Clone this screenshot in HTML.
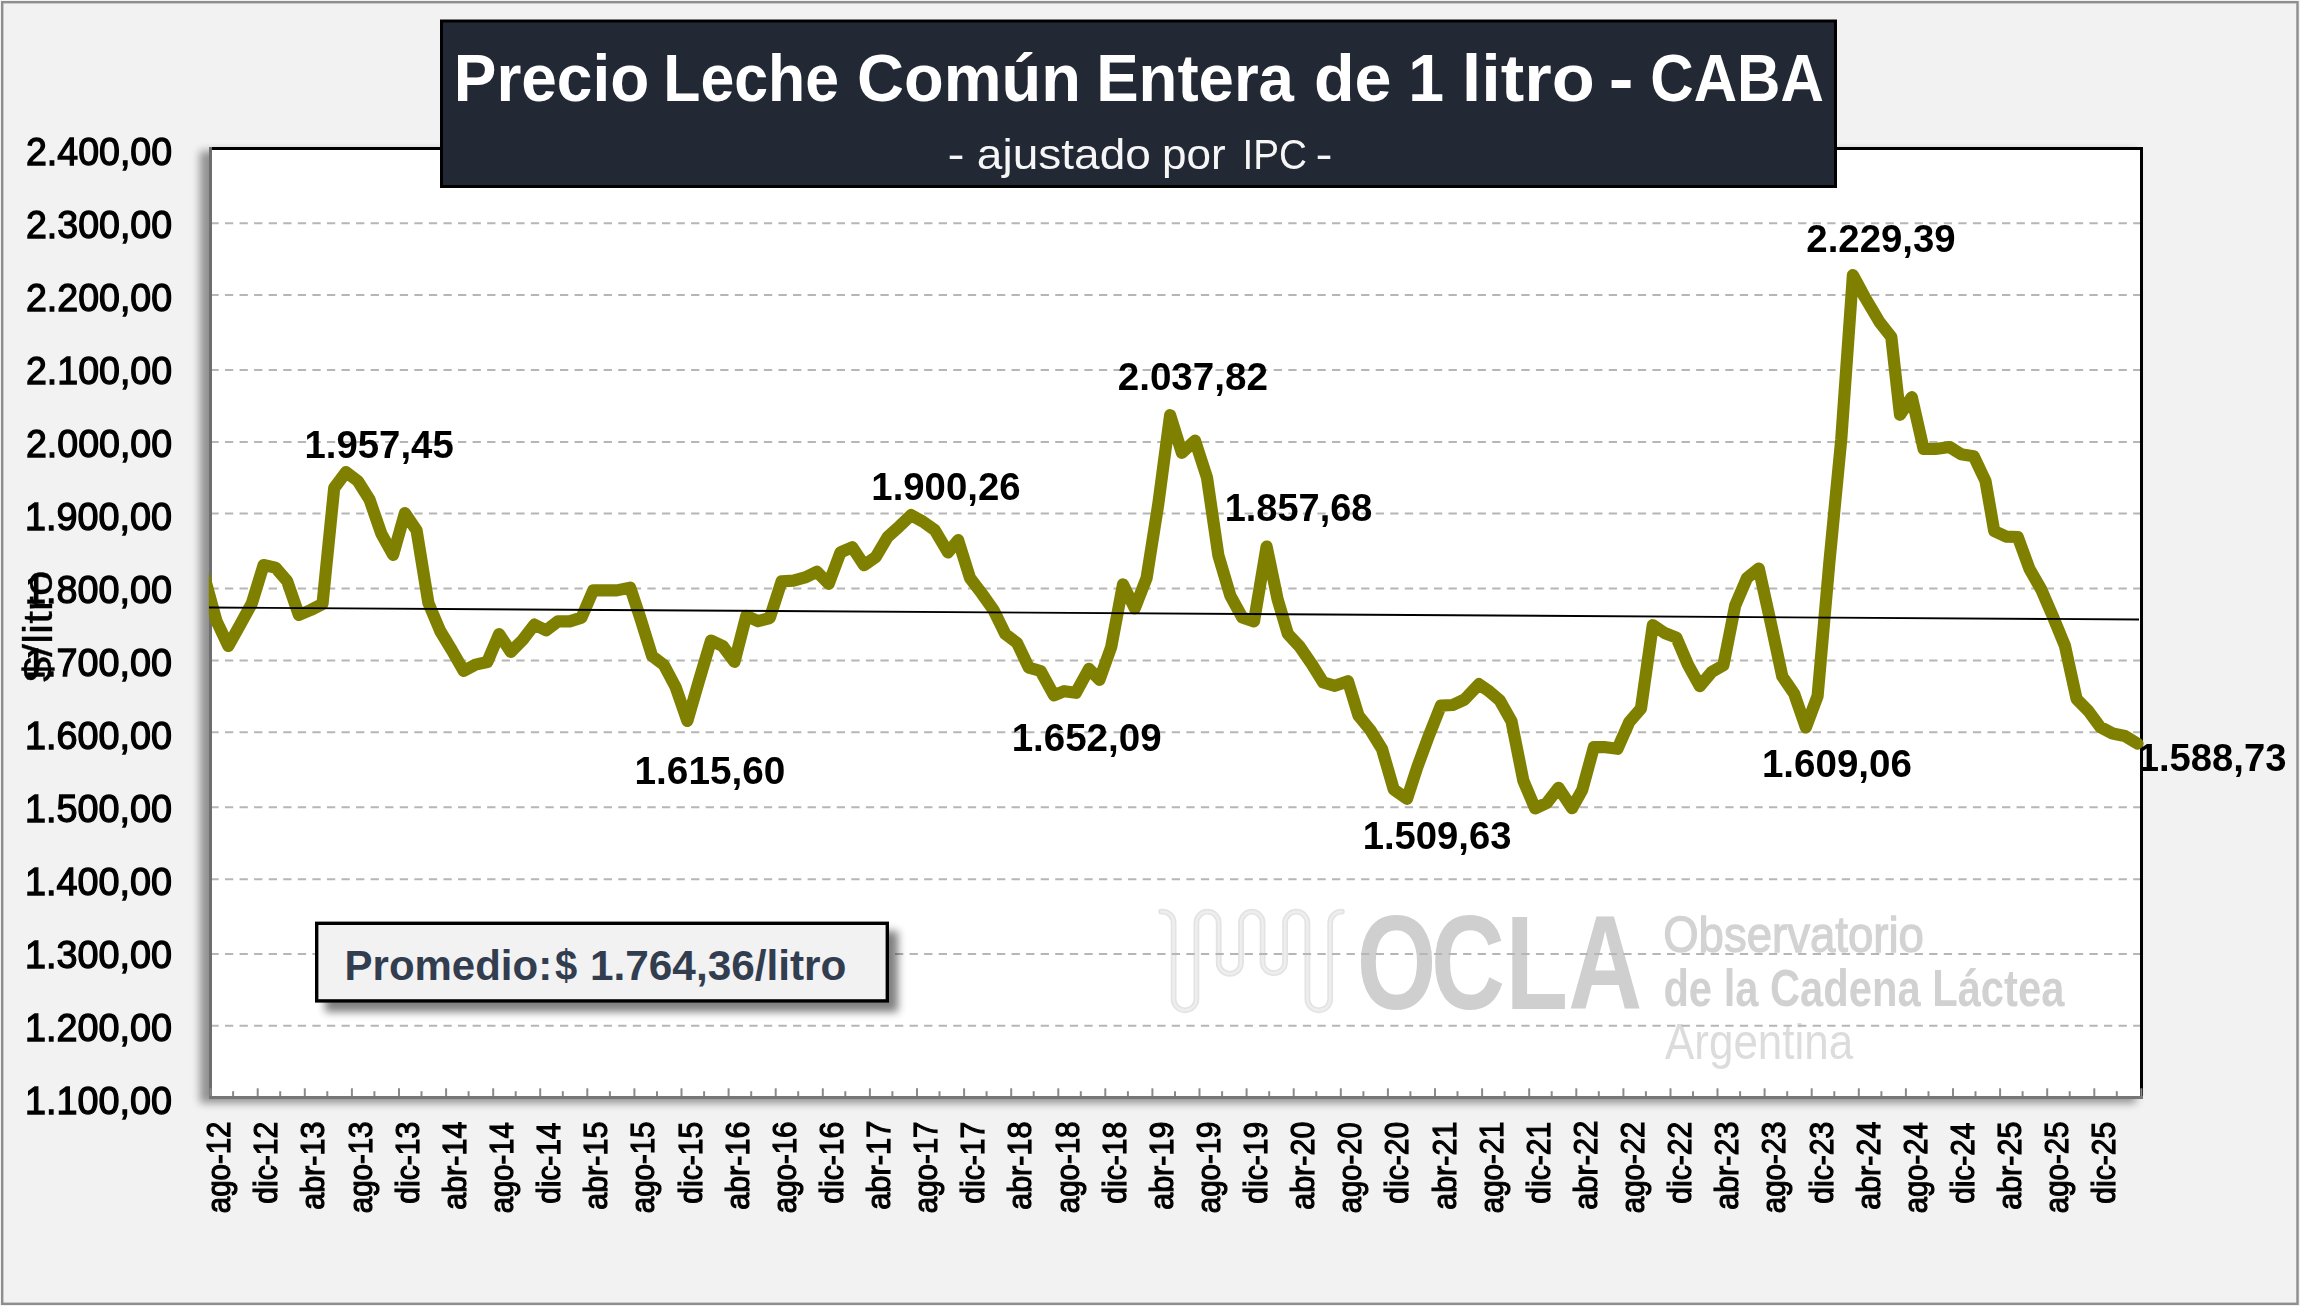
<!DOCTYPE html><html lang="es"><head><meta charset="utf-8"><title>Precio Leche Común Entera de 1 litro - CABA</title>
<style>html,body{margin:0;padding:0;background:#f2f2f2;}svg{display:block}text{font-family:"Liberation Sans",sans-serif;}</style></head><body>
<svg width="2300" height="1306" viewBox="0 0 2300 1306">
<defs>
<filter id="ps" x="-5%" y="-5%" width="110%" height="110%"><feGaussianBlur stdDeviation="4.5"/></filter>
<filter id="bs" x="-10%" y="-40%" width="120%" height="180%"><feGaussianBlur stdDeviation="4.5"/></filter>
<filter id="soft" x="-2%" y="-2%" width="104%" height="104%"><feGaussianBlur stdDeviation="0.6"/></filter>
<clipPath id="cp"><rect x="208.8" y="150" width="1960" height="946"/></clipPath>
</defs>
<rect x="0" y="0" width="2300" height="1306" fill="#f2f2f2"/>
<rect x="2.2" y="2.2" width="2295.3" height="1301.6" fill="none" stroke="#8e8e8e" stroke-width="2.4"/>
<rect x="200" y="151" width="1936" height="952" fill="#000" opacity="0.40" filter="url(#ps)"/>
<rect x="210" y="148" width="1932" height="950" fill="#fff"/>
<g filter="url(#soft)"><path d="M1161.1,911.7 A11.2,11.2 0 0 1 1173.6,922.9 L1173.6,999.1 A11.39,11.2 0 0 0 1196.4,999.1 L1196.4,922.9 A11.15,11.2 0 0 1 1218.7,922.9 L1218.7,962.7 A11.15,11.2 0 0 0 1241.0,962.7 L1241.0,922.9 A10.80,11.2 0 0 1 1262.6,922.9 L1262.6,962.7 A11.27,11.2 0 0 0 1285.1,962.7 L1285.1,922.9 A11.15,11.2 0 0 1 1307.4,922.9 L1307.4,999.1 A11.39,11.2 0 0 0 1330.2,999.1 L1330.2,922.9 A11.2,11.2 0 0 1 1341.9,911.7" fill="none" stroke="#e3e3e3" stroke-width="5.8" stroke-linecap="round"/>
<path d="M1161.1,911.7 A11.2,11.2 0 0 1 1173.6,922.9 L1173.6,999.1 A11.39,11.2 0 0 0 1196.4,999.1 L1196.4,922.9 A11.15,11.2 0 0 1 1218.7,922.9 L1218.7,962.7 A11.15,11.2 0 0 0 1241.0,962.7 L1241.0,922.9 A10.80,11.2 0 0 1 1262.6,922.9 L1262.6,962.7 A11.27,11.2 0 0 0 1285.1,962.7 L1285.1,922.9 A11.15,11.2 0 0 1 1307.4,922.9 L1307.4,999.1 A11.39,11.2 0 0 0 1330.2,999.1 L1330.2,922.9 A11.2,11.2 0 0 1 1341.9,911.7" fill="none" stroke="#eeeeee" stroke-width="2.4" stroke-linecap="round"/>
<text transform="translate(0,1009.1) scale(0.7642,1)" x="1775.5 1872.7 1970.1 2052.3" y="0" font-size="134" font-weight="bold" fill="#cfcfcf">OCLA</text>
<text x="1663.20" y="952" font-size="50.5" font-weight="normal" fill="#d3d3d3" textLength="260.69" lengthAdjust="spacingAndGlyphs" stroke="#d3d3d3" stroke-width="1.3">Observatorio</text>
<text x="1663.38" y="1006" font-size="51.5" font-weight="bold" fill="#d1d1d1" textLength="400.96" lengthAdjust="spacingAndGlyphs">de la Cadena Láctea</text>
<text x="1665.00" y="1059" font-size="50.5" font-weight="normal" fill="#dcdcdc" textLength="188.16" lengthAdjust="spacingAndGlyphs">Argentina</text>
</g>
<line x1="210.4" x2="2140" y1="223.3" y2="223.3" stroke="#b6b6b6" stroke-width="2" stroke-dasharray="8.3 6.266"/>
<line x1="210.4" x2="2140" y1="295.1" y2="295.1" stroke="#b6b6b6" stroke-width="2" stroke-dasharray="8.3 6.266"/>
<line x1="210.4" x2="2140" y1="370" y2="370" stroke="#b6b6b6" stroke-width="2" stroke-dasharray="8.3 6.266"/>
<line x1="210.4" x2="2140" y1="442" y2="442" stroke="#b6b6b6" stroke-width="2" stroke-dasharray="8.3 6.266"/>
<line x1="210.4" x2="2140" y1="513.6" y2="513.6" stroke="#b6b6b6" stroke-width="2" stroke-dasharray="8.3 6.266"/>
<line x1="210.4" x2="2140" y1="588.6" y2="588.6" stroke="#b6b6b6" stroke-width="2" stroke-dasharray="8.3 6.266"/>
<line x1="210.4" x2="2140" y1="660.4" y2="660.4" stroke="#b6b6b6" stroke-width="2" stroke-dasharray="8.3 6.266"/>
<line x1="210.4" x2="2140" y1="732.2" y2="732.2" stroke="#b6b6b6" stroke-width="2" stroke-dasharray="8.3 6.266"/>
<line x1="210.4" x2="2140" y1="807.3" y2="807.3" stroke="#b6b6b6" stroke-width="2" stroke-dasharray="8.3 6.266"/>
<line x1="210.4" x2="2140" y1="879.3" y2="879.3" stroke="#b6b6b6" stroke-width="2" stroke-dasharray="8.3 6.266"/>
<line x1="210.4" x2="2140" y1="954" y2="954" stroke="#b6b6b6" stroke-width="2" stroke-dasharray="8.3 6.266"/>
<line x1="210.4" x2="2140" y1="1025.8" y2="1025.8" stroke="#b6b6b6" stroke-width="2" stroke-dasharray="8.3 6.266"/>
<rect x="209" y="147" width="1934" height="3" fill="#000"/>
<rect x="2140" y="147" width="3" height="951" fill="#000"/>
<rect x="209" y="147" width="3" height="952" fill="#6e6e6e"/>
<rect x="209" y="1096" width="1934" height="3" fill="#767676"/>
<line x1="210.6" x2="210.6" y1="1088.3" y2="1096" stroke="#8a8a8a" stroke-width="2"/>
<line x1="233.1" x2="233.1" y1="1091.2" y2="1096" stroke="#8a8a8a" stroke-width="2"/>
<line x1="257.7" x2="257.7" y1="1088.3" y2="1096" stroke="#8a8a8a" stroke-width="2"/>
<line x1="280.2" x2="280.2" y1="1091.2" y2="1096" stroke="#8a8a8a" stroke-width="2"/>
<line x1="304.8" x2="304.8" y1="1088.3" y2="1096" stroke="#8a8a8a" stroke-width="2"/>
<line x1="327.3" x2="327.3" y1="1091.2" y2="1096" stroke="#8a8a8a" stroke-width="2"/>
<line x1="351.9" x2="351.9" y1="1088.3" y2="1096" stroke="#8a8a8a" stroke-width="2"/>
<line x1="374.4" x2="374.4" y1="1091.2" y2="1096" stroke="#8a8a8a" stroke-width="2"/>
<line x1="399.0" x2="399.0" y1="1088.3" y2="1096" stroke="#8a8a8a" stroke-width="2"/>
<line x1="421.5" x2="421.5" y1="1091.2" y2="1096" stroke="#8a8a8a" stroke-width="2"/>
<line x1="446.1" x2="446.1" y1="1088.3" y2="1096" stroke="#8a8a8a" stroke-width="2"/>
<line x1="468.6" x2="468.6" y1="1091.2" y2="1096" stroke="#8a8a8a" stroke-width="2"/>
<line x1="493.2" x2="493.2" y1="1088.3" y2="1096" stroke="#8a8a8a" stroke-width="2"/>
<line x1="515.7" x2="515.7" y1="1091.2" y2="1096" stroke="#8a8a8a" stroke-width="2"/>
<line x1="540.2" x2="540.2" y1="1088.3" y2="1096" stroke="#8a8a8a" stroke-width="2"/>
<line x1="562.8" x2="562.8" y1="1091.2" y2="1096" stroke="#8a8a8a" stroke-width="2"/>
<line x1="587.3" x2="587.3" y1="1088.3" y2="1096" stroke="#8a8a8a" stroke-width="2"/>
<line x1="609.9" x2="609.9" y1="1091.2" y2="1096" stroke="#8a8a8a" stroke-width="2"/>
<line x1="634.4" x2="634.4" y1="1088.3" y2="1096" stroke="#8a8a8a" stroke-width="2"/>
<line x1="657.0" x2="657.0" y1="1091.2" y2="1096" stroke="#8a8a8a" stroke-width="2"/>
<line x1="681.5" x2="681.5" y1="1088.3" y2="1096" stroke="#8a8a8a" stroke-width="2"/>
<line x1="704.1" x2="704.1" y1="1091.2" y2="1096" stroke="#8a8a8a" stroke-width="2"/>
<line x1="728.6" x2="728.6" y1="1088.3" y2="1096" stroke="#8a8a8a" stroke-width="2"/>
<line x1="751.2" x2="751.2" y1="1091.2" y2="1096" stroke="#8a8a8a" stroke-width="2"/>
<line x1="775.7" x2="775.7" y1="1088.3" y2="1096" stroke="#8a8a8a" stroke-width="2"/>
<line x1="798.2" x2="798.2" y1="1091.2" y2="1096" stroke="#8a8a8a" stroke-width="2"/>
<line x1="822.8" x2="822.8" y1="1088.3" y2="1096" stroke="#8a8a8a" stroke-width="2"/>
<line x1="845.3" x2="845.3" y1="1091.2" y2="1096" stroke="#8a8a8a" stroke-width="2"/>
<line x1="869.9" x2="869.9" y1="1088.3" y2="1096" stroke="#8a8a8a" stroke-width="2"/>
<line x1="892.4" x2="892.4" y1="1091.2" y2="1096" stroke="#8a8a8a" stroke-width="2"/>
<line x1="917.0" x2="917.0" y1="1088.3" y2="1096" stroke="#8a8a8a" stroke-width="2"/>
<line x1="939.5" x2="939.5" y1="1091.2" y2="1096" stroke="#8a8a8a" stroke-width="2"/>
<line x1="964.1" x2="964.1" y1="1088.3" y2="1096" stroke="#8a8a8a" stroke-width="2"/>
<line x1="986.6" x2="986.6" y1="1091.2" y2="1096" stroke="#8a8a8a" stroke-width="2"/>
<line x1="1011.2" x2="1011.2" y1="1088.3" y2="1096" stroke="#8a8a8a" stroke-width="2"/>
<line x1="1033.7" x2="1033.7" y1="1091.2" y2="1096" stroke="#8a8a8a" stroke-width="2"/>
<line x1="1058.3" x2="1058.3" y1="1088.3" y2="1096" stroke="#8a8a8a" stroke-width="2"/>
<line x1="1080.8" x2="1080.8" y1="1091.2" y2="1096" stroke="#8a8a8a" stroke-width="2"/>
<line x1="1105.3" x2="1105.3" y1="1088.3" y2="1096" stroke="#8a8a8a" stroke-width="2"/>
<line x1="1127.9" x2="1127.9" y1="1091.2" y2="1096" stroke="#8a8a8a" stroke-width="2"/>
<line x1="1152.4" x2="1152.4" y1="1088.3" y2="1096" stroke="#8a8a8a" stroke-width="2"/>
<line x1="1175.0" x2="1175.0" y1="1091.2" y2="1096" stroke="#8a8a8a" stroke-width="2"/>
<line x1="1199.5" x2="1199.5" y1="1088.3" y2="1096" stroke="#8a8a8a" stroke-width="2"/>
<line x1="1222.1" x2="1222.1" y1="1091.2" y2="1096" stroke="#8a8a8a" stroke-width="2"/>
<line x1="1246.6" x2="1246.6" y1="1088.3" y2="1096" stroke="#8a8a8a" stroke-width="2"/>
<line x1="1269.2" x2="1269.2" y1="1091.2" y2="1096" stroke="#8a8a8a" stroke-width="2"/>
<line x1="1293.7" x2="1293.7" y1="1088.3" y2="1096" stroke="#8a8a8a" stroke-width="2"/>
<line x1="1316.3" x2="1316.3" y1="1091.2" y2="1096" stroke="#8a8a8a" stroke-width="2"/>
<line x1="1340.8" x2="1340.8" y1="1088.3" y2="1096" stroke="#8a8a8a" stroke-width="2"/>
<line x1="1363.4" x2="1363.4" y1="1091.2" y2="1096" stroke="#8a8a8a" stroke-width="2"/>
<line x1="1387.9" x2="1387.9" y1="1088.3" y2="1096" stroke="#8a8a8a" stroke-width="2"/>
<line x1="1410.4" x2="1410.4" y1="1091.2" y2="1096" stroke="#8a8a8a" stroke-width="2"/>
<line x1="1435.0" x2="1435.0" y1="1088.3" y2="1096" stroke="#8a8a8a" stroke-width="2"/>
<line x1="1457.5" x2="1457.5" y1="1091.2" y2="1096" stroke="#8a8a8a" stroke-width="2"/>
<line x1="1482.1" x2="1482.1" y1="1088.3" y2="1096" stroke="#8a8a8a" stroke-width="2"/>
<line x1="1504.6" x2="1504.6" y1="1091.2" y2="1096" stroke="#8a8a8a" stroke-width="2"/>
<line x1="1529.2" x2="1529.2" y1="1088.3" y2="1096" stroke="#8a8a8a" stroke-width="2"/>
<line x1="1551.7" x2="1551.7" y1="1091.2" y2="1096" stroke="#8a8a8a" stroke-width="2"/>
<line x1="1576.3" x2="1576.3" y1="1088.3" y2="1096" stroke="#8a8a8a" stroke-width="2"/>
<line x1="1598.8" x2="1598.8" y1="1091.2" y2="1096" stroke="#8a8a8a" stroke-width="2"/>
<line x1="1623.4" x2="1623.4" y1="1088.3" y2="1096" stroke="#8a8a8a" stroke-width="2"/>
<line x1="1645.9" x2="1645.9" y1="1091.2" y2="1096" stroke="#8a8a8a" stroke-width="2"/>
<line x1="1670.5" x2="1670.5" y1="1088.3" y2="1096" stroke="#8a8a8a" stroke-width="2"/>
<line x1="1693.0" x2="1693.0" y1="1091.2" y2="1096" stroke="#8a8a8a" stroke-width="2"/>
<line x1="1717.5" x2="1717.5" y1="1088.3" y2="1096" stroke="#8a8a8a" stroke-width="2"/>
<line x1="1740.1" x2="1740.1" y1="1091.2" y2="1096" stroke="#8a8a8a" stroke-width="2"/>
<line x1="1764.6" x2="1764.6" y1="1088.3" y2="1096" stroke="#8a8a8a" stroke-width="2"/>
<line x1="1787.2" x2="1787.2" y1="1091.2" y2="1096" stroke="#8a8a8a" stroke-width="2"/>
<line x1="1811.7" x2="1811.7" y1="1088.3" y2="1096" stroke="#8a8a8a" stroke-width="2"/>
<line x1="1834.3" x2="1834.3" y1="1091.2" y2="1096" stroke="#8a8a8a" stroke-width="2"/>
<line x1="1858.8" x2="1858.8" y1="1088.3" y2="1096" stroke="#8a8a8a" stroke-width="2"/>
<line x1="1881.4" x2="1881.4" y1="1091.2" y2="1096" stroke="#8a8a8a" stroke-width="2"/>
<line x1="1905.9" x2="1905.9" y1="1088.3" y2="1096" stroke="#8a8a8a" stroke-width="2"/>
<line x1="1928.5" x2="1928.5" y1="1091.2" y2="1096" stroke="#8a8a8a" stroke-width="2"/>
<line x1="1953.0" x2="1953.0" y1="1088.3" y2="1096" stroke="#8a8a8a" stroke-width="2"/>
<line x1="1975.5" x2="1975.5" y1="1091.2" y2="1096" stroke="#8a8a8a" stroke-width="2"/>
<line x1="2000.1" x2="2000.1" y1="1088.3" y2="1096" stroke="#8a8a8a" stroke-width="2"/>
<line x1="2022.6" x2="2022.6" y1="1091.2" y2="1096" stroke="#8a8a8a" stroke-width="2"/>
<line x1="2047.2" x2="2047.2" y1="1088.3" y2="1096" stroke="#8a8a8a" stroke-width="2"/>
<line x1="2069.7" x2="2069.7" y1="1091.2" y2="1096" stroke="#8a8a8a" stroke-width="2"/>
<line x1="2094.3" x2="2094.3" y1="1088.3" y2="1096" stroke="#8a8a8a" stroke-width="2"/>
<line x1="2116.8" x2="2116.8" y1="1091.2" y2="1096" stroke="#8a8a8a" stroke-width="2"/>
<line x1="2141.4" x2="2141.4" y1="1088.3" y2="1096" stroke="#8a8a8a" stroke-width="2"/>
<polyline clip-path="url(#cp)" points="204.7,578.0 216.5,621.0 228.3,645.9 240.0,625.0 251.8,603.5 263.6,565.0 275.4,567.6 287.1,581.0 298.9,615.0 310.7,610.0 322.5,604.0 334.2,488.0 346.0,472.1 357.8,481.0 369.5,499.6 381.3,533.6 393.1,554.9 404.9,513.1 416.6,530.4 428.4,603.0 440.2,631.0 452.0,650.5 463.7,670.9 475.5,664.6 487.3,662.0 499.1,634.1 510.8,651.9 522.6,640.0 534.4,624.6 546.1,630.4 557.9,621.4 569.7,621.4 581.5,617.6 593.2,590.4 605.0,590.4 616.8,590.4 630.2,587.6 640.3,618.0 652.1,656.0 663.9,665.0 675.6,687.0 687.4,720.9 699.2,680.0 711.0,640.6 722.7,646.0 734.5,661.8 746.3,615.8 758.1,621.2 769.8,618.0 781.6,581.4 793.4,580.6 805.1,577.4 816.9,571.8 828.7,583.8 840.5,552.4 852.2,547.2 864.0,565.2 875.8,557.0 887.6,537.0 899.3,526.4 911.1,515.1 922.9,521.6 934.7,530.0 948.0,552.4 958.2,540.2 970.0,578.0 981.7,593.4 993.5,610.0 1005.3,634.0 1017.1,643.0 1028.8,667.6 1040.6,671.0 1054.0,695.4 1064.2,691.2 1075.9,692.8 1089.0,668.9 1099.5,679.8 1111.2,647.0 1123.0,584.4 1134.8,608.4 1146.6,578.0 1158.3,504.0 1170.1,415.2 1181.9,452.8 1195.0,440.6 1207.0,477.6 1218.4,555.6 1230.3,595.6 1242.3,617.5 1254.0,621.4 1266.6,546.6 1277.6,599.3 1287.8,633.8 1299.6,646.5 1311.4,663.6 1323.2,682.4 1334.9,685.8 1348.0,681.2 1358.5,715.6 1370.3,730.0 1382.0,749.0 1393.8,789.6 1407.0,798.8 1417.3,767.2 1429.1,735.2 1440.9,705.6 1452.7,705.0 1464.4,699.6 1479.0,684.2 1489.5,691.6 1499.8,700.4 1511.5,721.2 1523.3,780.5 1535.1,808.4 1546.8,803.0 1558.6,787.8 1572.0,808.2 1582.2,790.0 1593.9,747.0 1605.7,747.2 1617.5,748.8 1629.3,722.0 1641.0,708.4 1652.8,625.2 1664.6,633.0 1676.4,637.6 1688.1,665.0 1699.9,686.2 1711.7,672.0 1723.4,665.3 1735.2,605.5 1747.0,578.0 1758.8,568.6 1770.5,621.5 1782.3,676.4 1794.1,693.6 1805.9,727.4 1817.6,696.0 1829.4,562.0 1841.2,440.0 1852.9,275.1 1864.7,297.0 1879.5,322.0 1891.3,337.0 1900.0,414.8 1911.8,397.2 1923.6,449.0 1935.4,449.0 1949.6,447.0 1960.9,454.2 1973.7,456.2 1985.5,481.0 1994.2,531.0 2006.0,536.6 2017.8,537.0 2029.5,569.0 2041.3,589.6 2053.1,617.0 2064.9,645.6 2076.6,699.0 2088.4,711.0 2100.2,727.0 2112.6,733.5 2124.9,736.0 2137.5,743.6" fill="none" stroke="#808000" stroke-width="12.2" stroke-linejoin="round" stroke-linecap="round"/>
<line x1="209" y1="607.5" x2="2139" y2="619.5" stroke="#000" stroke-width="1.9"/>
<text x="304.45" y="457.5" font-size="39.3" font-weight="bold" fill="#000" textLength="149.30" lengthAdjust="spacingAndGlyphs">1.957,45</text>
<text x="634.53" y="784.3" font-size="39.3" font-weight="bold" fill="#000" textLength="150.92" lengthAdjust="spacingAndGlyphs">1.615,60</text>
<text x="871.35" y="499.8" font-size="39.3" font-weight="bold" fill="#000" textLength="149.17" lengthAdjust="spacingAndGlyphs">1.900,26</text>
<text x="1117.72" y="390.3" font-size="39.3" font-weight="bold" fill="#000" textLength="150.22" lengthAdjust="spacingAndGlyphs">2.037,82</text>
<text x="1224.67" y="521.2" font-size="39.3" font-weight="bold" fill="#000" textLength="147.77" lengthAdjust="spacingAndGlyphs">1.857,68</text>
<text x="1011.64" y="750.9" font-size="39.3" font-weight="bold" fill="#000" textLength="149.99" lengthAdjust="spacingAndGlyphs">1.652,09</text>
<text x="1362.66" y="849.1" font-size="39.3" font-weight="bold" fill="#000" textLength="148.76" lengthAdjust="spacingAndGlyphs">1.509,63</text>
<text x="1806.32" y="252.1" font-size="39.3" font-weight="bold" fill="#000" textLength="149.40" lengthAdjust="spacingAndGlyphs">2.229,39</text>
<text x="1761.94" y="776.9" font-size="39.3" font-weight="bold" fill="#000" textLength="149.99" lengthAdjust="spacingAndGlyphs">1.609,06</text>
<text x="2137.66" y="771" font-size="39.3" font-weight="bold" fill="#000" textLength="148.76" lengthAdjust="spacingAndGlyphs">1.588,73</text>
<rect x="441.5" y="21" width="1394" height="165.5" fill="#222935" stroke="#000" stroke-width="3"/>
<text x="453.75" y="101" font-size="66.5" font-weight="bold" fill="#fff" textLength="195.47" lengthAdjust="spacingAndGlyphs">Precio</text>
<text x="663.34" y="101" font-size="66.5" font-weight="bold" fill="#fff" textLength="175.67" lengthAdjust="spacingAndGlyphs">Leche</text>
<text x="857.07" y="101" font-size="66.5" font-weight="bold" fill="#fff" textLength="223.87" lengthAdjust="spacingAndGlyphs">Común</text>
<text x="1096.18" y="101" font-size="66.5" font-weight="bold" fill="#fff" textLength="197.79" lengthAdjust="spacingAndGlyphs">Entera</text>
<text x="1314.00" y="101" font-size="66.5" font-weight="bold" fill="#fff" textLength="77.61" lengthAdjust="spacingAndGlyphs">de</text>
<text x="1408.13" y="101" font-size="66.5" font-weight="bold" fill="#fff" textLength="35.79" lengthAdjust="spacingAndGlyphs">1</text>
<text x="1461.70" y="101" font-size="66.5" font-weight="bold" fill="#fff" textLength="133.06" lengthAdjust="spacingAndGlyphs">litro</text>
<text x="1608.65" y="101" font-size="66.5" font-weight="bold" fill="#fff" textLength="24.76" lengthAdjust="spacingAndGlyphs">-</text>
<text x="1650.29" y="101" font-size="66.5" font-weight="bold" fill="#fff" textLength="173.62" lengthAdjust="spacingAndGlyphs">CABA</text>
<text x="947.64" y="169" font-size="43.3" font-weight="normal" fill="#f6f6f6" textLength="17.04" lengthAdjust="spacingAndGlyphs">-</text>
<text x="976.88" y="169" font-size="43.3" font-weight="normal" fill="#f6f6f6" textLength="173.93" lengthAdjust="spacingAndGlyphs">ajustado</text>
<text x="1161.95" y="169" font-size="43.3" font-weight="normal" fill="#f6f6f6" textLength="63.64" lengthAdjust="spacingAndGlyphs">por</text>
<text x="1242.42" y="169" font-size="43.3" font-weight="normal" fill="#f6f6f6" textLength="64.53" lengthAdjust="spacingAndGlyphs">IPC</text>
<text x="1315.64" y="169" font-size="43.3" font-weight="normal" fill="#f6f6f6" textLength="17.04" lengthAdjust="spacingAndGlyphs">-</text>
<text x="25.99" y="164.5" font-size="39.4" font-weight="normal" fill="#000" textLength="146.09" lengthAdjust="spacingAndGlyphs" stroke="#000" stroke-width="1.3">2.400,00</text>
<text x="25.99" y="237.5" font-size="39.4" font-weight="normal" fill="#000" textLength="146.09" lengthAdjust="spacingAndGlyphs" stroke="#000" stroke-width="1.3">2.300,00</text>
<text x="25.99" y="310.5" font-size="39.4" font-weight="normal" fill="#000" textLength="146.09" lengthAdjust="spacingAndGlyphs" stroke="#000" stroke-width="1.3">2.200,00</text>
<text x="25.99" y="383.5" font-size="39.4" font-weight="normal" fill="#000" textLength="146.09" lengthAdjust="spacingAndGlyphs" stroke="#000" stroke-width="1.3">2.100,00</text>
<text x="25.99" y="456.5" font-size="39.4" font-weight="normal" fill="#000" textLength="146.09" lengthAdjust="spacingAndGlyphs" stroke="#000" stroke-width="1.3">2.000,00</text>
<text x="25.02" y="529.5" font-size="39.4" font-weight="normal" fill="#000" textLength="147.07" lengthAdjust="spacingAndGlyphs" stroke="#000" stroke-width="1.3">1.900,00</text>
<text x="25.02" y="602.5" font-size="39.4" font-weight="normal" fill="#000" textLength="147.07" lengthAdjust="spacingAndGlyphs" stroke="#000" stroke-width="1.3">1.800,00</text>
<text x="25.02" y="675.5" font-size="39.4" font-weight="normal" fill="#000" textLength="147.07" lengthAdjust="spacingAndGlyphs" stroke="#000" stroke-width="1.3">1.700,00</text>
<text x="25.02" y="748.5" font-size="39.4" font-weight="normal" fill="#000" textLength="147.07" lengthAdjust="spacingAndGlyphs" stroke="#000" stroke-width="1.3">1.600,00</text>
<text x="25.02" y="821.5" font-size="39.4" font-weight="normal" fill="#000" textLength="147.07" lengthAdjust="spacingAndGlyphs" stroke="#000" stroke-width="1.3">1.500,00</text>
<text x="25.02" y="894.5" font-size="39.4" font-weight="normal" fill="#000" textLength="147.07" lengthAdjust="spacingAndGlyphs" stroke="#000" stroke-width="1.3">1.400,00</text>
<text x="25.02" y="967.5" font-size="39.4" font-weight="normal" fill="#000" textLength="147.07" lengthAdjust="spacingAndGlyphs" stroke="#000" stroke-width="1.3">1.300,00</text>
<text x="25.02" y="1040.5" font-size="39.4" font-weight="normal" fill="#000" textLength="147.07" lengthAdjust="spacingAndGlyphs" stroke="#000" stroke-width="1.3">1.200,00</text>
<text x="25.02" y="1113.5" font-size="39.4" font-weight="normal" fill="#000" textLength="147.07" lengthAdjust="spacingAndGlyphs" stroke="#000" stroke-width="1.3">1.100,00</text>
<text transform="translate(51.70,0) rotate(-90)" x="-682.11" y="0" font-size="41" font-weight="normal" fill="#000" textLength="111.52" lengthAdjust="spacingAndGlyphs" stroke="#000" stroke-width="0.35">$/litro</text>
<text transform="translate(230.20,0) rotate(-90)" x="-1213.27" y="0" font-size="34" font-weight="normal" fill="#000" textLength="91.79" lengthAdjust="spacingAndGlyphs" stroke="#000" stroke-width="1.2">ago-12</text>
<text transform="translate(277.33,0) rotate(-90)" x="-1203.79" y="0" font-size="34" font-weight="normal" fill="#000" textLength="82.11" lengthAdjust="spacingAndGlyphs" stroke="#000" stroke-width="1.2">dic-12</text>
<text transform="translate(324.46,0) rotate(-90)" x="-1209.80" y="0" font-size="34" font-weight="normal" fill="#000" textLength="88.15" lengthAdjust="spacingAndGlyphs" stroke="#000" stroke-width="1.2">abr-13</text>
<text transform="translate(371.59,0) rotate(-90)" x="-1213.27" y="0" font-size="34" font-weight="normal" fill="#000" textLength="91.79" lengthAdjust="spacingAndGlyphs" stroke="#000" stroke-width="1.2">ago-13</text>
<text transform="translate(418.72,0) rotate(-90)" x="-1203.79" y="0" font-size="34" font-weight="normal" fill="#000" textLength="82.11" lengthAdjust="spacingAndGlyphs" stroke="#000" stroke-width="1.2">dic-13</text>
<text transform="translate(465.85,0) rotate(-90)" x="-1209.80" y="0" font-size="34" font-weight="normal" fill="#000" textLength="88.15" lengthAdjust="spacingAndGlyphs" stroke="#000" stroke-width="1.2">abr-14</text>
<text transform="translate(512.98,0) rotate(-90)" x="-1213.26" y="0" font-size="34" font-weight="normal" fill="#000" textLength="90.91" lengthAdjust="spacingAndGlyphs" stroke="#000" stroke-width="1.2">ago-14</text>
<text transform="translate(560.11,0) rotate(-90)" x="-1203.78" y="0" font-size="34" font-weight="normal" fill="#000" textLength="81.21" lengthAdjust="spacingAndGlyphs" stroke="#000" stroke-width="1.2">dic-14</text>
<text transform="translate(607.24,0) rotate(-90)" x="-1209.80" y="0" font-size="34" font-weight="normal" fill="#000" textLength="88.15" lengthAdjust="spacingAndGlyphs" stroke="#000" stroke-width="1.2">abr-15</text>
<text transform="translate(654.37,0) rotate(-90)" x="-1213.27" y="0" font-size="34" font-weight="normal" fill="#000" textLength="91.79" lengthAdjust="spacingAndGlyphs" stroke="#000" stroke-width="1.2">ago-15</text>
<text transform="translate(701.50,0) rotate(-90)" x="-1203.79" y="0" font-size="34" font-weight="normal" fill="#000" textLength="82.11" lengthAdjust="spacingAndGlyphs" stroke="#000" stroke-width="1.2">dic-15</text>
<text transform="translate(748.63,0) rotate(-90)" x="-1209.80" y="0" font-size="34" font-weight="normal" fill="#000" textLength="88.15" lengthAdjust="spacingAndGlyphs" stroke="#000" stroke-width="1.2">abr-16</text>
<text transform="translate(795.76,0) rotate(-90)" x="-1213.27" y="0" font-size="34" font-weight="normal" fill="#000" textLength="91.79" lengthAdjust="spacingAndGlyphs" stroke="#000" stroke-width="1.2">ago-16</text>
<text transform="translate(842.89,0) rotate(-90)" x="-1203.79" y="0" font-size="34" font-weight="normal" fill="#000" textLength="82.11" lengthAdjust="spacingAndGlyphs" stroke="#000" stroke-width="1.2">dic-16</text>
<text transform="translate(890.02,0) rotate(-90)" x="-1209.81" y="0" font-size="34" font-weight="normal" fill="#000" textLength="89.07" lengthAdjust="spacingAndGlyphs" stroke="#000" stroke-width="1.2">abr-17</text>
<text transform="translate(937.15,0) rotate(-90)" x="-1213.27" y="0" font-size="34" font-weight="normal" fill="#000" textLength="91.79" lengthAdjust="spacingAndGlyphs" stroke="#000" stroke-width="1.2">ago-17</text>
<text transform="translate(984.28,0) rotate(-90)" x="-1203.79" y="0" font-size="34" font-weight="normal" fill="#000" textLength="82.11" lengthAdjust="spacingAndGlyphs" stroke="#000" stroke-width="1.2">dic-17</text>
<text transform="translate(1031.41,0) rotate(-90)" x="-1209.80" y="0" font-size="34" font-weight="normal" fill="#000" textLength="88.15" lengthAdjust="spacingAndGlyphs" stroke="#000" stroke-width="1.2">abr-18</text>
<text transform="translate(1078.54,0) rotate(-90)" x="-1213.27" y="0" font-size="34" font-weight="normal" fill="#000" textLength="91.79" lengthAdjust="spacingAndGlyphs" stroke="#000" stroke-width="1.2">ago-18</text>
<text transform="translate(1125.67,0) rotate(-90)" x="-1203.79" y="0" font-size="34" font-weight="normal" fill="#000" textLength="82.11" lengthAdjust="spacingAndGlyphs" stroke="#000" stroke-width="1.2">dic-18</text>
<text transform="translate(1172.80,0) rotate(-90)" x="-1209.80" y="0" font-size="34" font-weight="normal" fill="#000" textLength="88.15" lengthAdjust="spacingAndGlyphs" stroke="#000" stroke-width="1.2">abr-19</text>
<text transform="translate(1219.93,0) rotate(-90)" x="-1213.27" y="0" font-size="34" font-weight="normal" fill="#000" textLength="91.79" lengthAdjust="spacingAndGlyphs" stroke="#000" stroke-width="1.2">ago-19</text>
<text transform="translate(1267.06,0) rotate(-90)" x="-1203.79" y="0" font-size="34" font-weight="normal" fill="#000" textLength="82.11" lengthAdjust="spacingAndGlyphs" stroke="#000" stroke-width="1.2">dic-19</text>
<text transform="translate(1314.19,0) rotate(-90)" x="-1209.80" y="0" font-size="34" font-weight="normal" fill="#000" textLength="88.15" lengthAdjust="spacingAndGlyphs" stroke="#000" stroke-width="1.2">abr-20</text>
<text transform="translate(1361.32,0) rotate(-90)" x="-1213.26" y="0" font-size="34" font-weight="normal" fill="#000" textLength="90.91" lengthAdjust="spacingAndGlyphs" stroke="#000" stroke-width="1.2">ago-20</text>
<text transform="translate(1408.45,0) rotate(-90)" x="-1203.79" y="0" font-size="34" font-weight="normal" fill="#000" textLength="82.11" lengthAdjust="spacingAndGlyphs" stroke="#000" stroke-width="1.2">dic-20</text>
<text transform="translate(1455.58,0) rotate(-90)" x="-1209.80" y="0" font-size="34" font-weight="normal" fill="#000" textLength="88.15" lengthAdjust="spacingAndGlyphs" stroke="#000" stroke-width="1.2">abr-21</text>
<text transform="translate(1502.71,0) rotate(-90)" x="-1213.27" y="0" font-size="34" font-weight="normal" fill="#000" textLength="91.79" lengthAdjust="spacingAndGlyphs" stroke="#000" stroke-width="1.2">ago-21</text>
<text transform="translate(1549.84,0) rotate(-90)" x="-1203.79" y="0" font-size="34" font-weight="normal" fill="#000" textLength="82.11" lengthAdjust="spacingAndGlyphs" stroke="#000" stroke-width="1.2">dic-21</text>
<text transform="translate(1596.97,0) rotate(-90)" x="-1209.81" y="0" font-size="34" font-weight="normal" fill="#000" textLength="89.07" lengthAdjust="spacingAndGlyphs" stroke="#000" stroke-width="1.2">abr-22</text>
<text transform="translate(1644.10,0) rotate(-90)" x="-1213.27" y="0" font-size="34" font-weight="normal" fill="#000" textLength="91.79" lengthAdjust="spacingAndGlyphs" stroke="#000" stroke-width="1.2">ago-22</text>
<text transform="translate(1691.23,0) rotate(-90)" x="-1203.79" y="0" font-size="34" font-weight="normal" fill="#000" textLength="82.11" lengthAdjust="spacingAndGlyphs" stroke="#000" stroke-width="1.2">dic-22</text>
<text transform="translate(1738.36,0) rotate(-90)" x="-1209.80" y="0" font-size="34" font-weight="normal" fill="#000" textLength="88.15" lengthAdjust="spacingAndGlyphs" stroke="#000" stroke-width="1.2">abr-23</text>
<text transform="translate(1785.49,0) rotate(-90)" x="-1213.27" y="0" font-size="34" font-weight="normal" fill="#000" textLength="91.79" lengthAdjust="spacingAndGlyphs" stroke="#000" stroke-width="1.2">ago-23</text>
<text transform="translate(1832.62,0) rotate(-90)" x="-1203.79" y="0" font-size="34" font-weight="normal" fill="#000" textLength="82.11" lengthAdjust="spacingAndGlyphs" stroke="#000" stroke-width="1.2">dic-23</text>
<text transform="translate(1879.75,0) rotate(-90)" x="-1209.80" y="0" font-size="34" font-weight="normal" fill="#000" textLength="88.15" lengthAdjust="spacingAndGlyphs" stroke="#000" stroke-width="1.2">abr-24</text>
<text transform="translate(1926.88,0) rotate(-90)" x="-1213.26" y="0" font-size="34" font-weight="normal" fill="#000" textLength="90.91" lengthAdjust="spacingAndGlyphs" stroke="#000" stroke-width="1.2">ago-24</text>
<text transform="translate(1974.01,0) rotate(-90)" x="-1203.78" y="0" font-size="34" font-weight="normal" fill="#000" textLength="81.21" lengthAdjust="spacingAndGlyphs" stroke="#000" stroke-width="1.2">dic-24</text>
<text transform="translate(2021.14,0) rotate(-90)" x="-1209.80" y="0" font-size="34" font-weight="normal" fill="#000" textLength="88.15" lengthAdjust="spacingAndGlyphs" stroke="#000" stroke-width="1.2">abr-25</text>
<text transform="translate(2068.27,0) rotate(-90)" x="-1213.27" y="0" font-size="34" font-weight="normal" fill="#000" textLength="91.79" lengthAdjust="spacingAndGlyphs" stroke="#000" stroke-width="1.2">ago-25</text>
<text transform="translate(2115.40,0) rotate(-90)" x="-1203.79" y="0" font-size="34" font-weight="normal" fill="#000" textLength="82.11" lengthAdjust="spacingAndGlyphs" stroke="#000" stroke-width="1.2">dic-25</text>
<rect x="325" y="931" width="573" height="81" fill="#000" opacity="0.5" filter="url(#bs)"/>
<rect x="316.7" y="923.3" width="570.6" height="77.6" fill="#f2f2f2" stroke="#000" stroke-width="3.4"/>
<text x="344.59" y="980" font-size="41.9" font-weight="bold" fill="#323e50" textLength="207.57" lengthAdjust="spacingAndGlyphs">Promedio:</text>
<text x="555.05" y="980" font-size="41.9" font-weight="bold" fill="#323e50" textLength="22.25" lengthAdjust="spacingAndGlyphs">$</text>
<text x="589.97" y="980" font-size="41.9" font-weight="bold" fill="#323e50" textLength="256.48" lengthAdjust="spacingAndGlyphs">1.764,36/litro</text>
</svg></body></html>
